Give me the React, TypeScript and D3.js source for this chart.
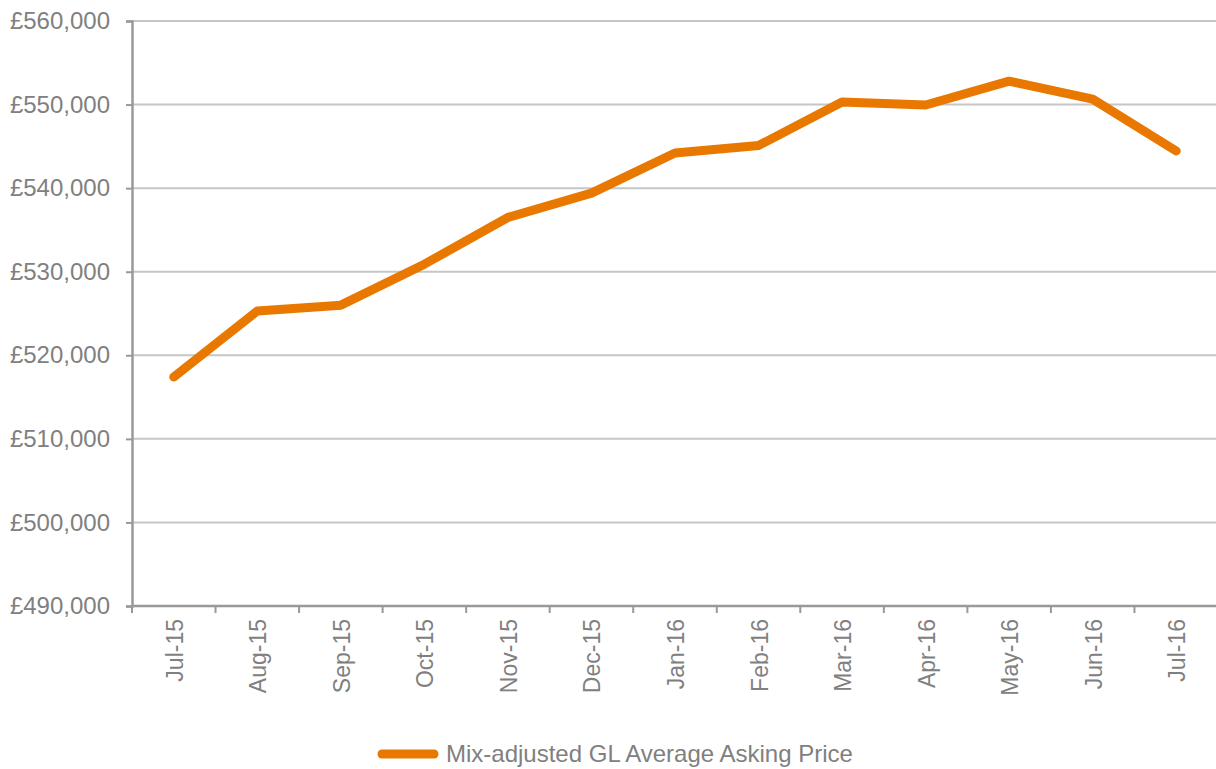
import React, { useEffect, useRef } from "react";
import * as d3 from "d3";

const months = ["Jul-15", "Aug-15", "Sep-15", "Oct-15", "Nov-15", "Dec-15", "Jan-16", "Feb-16", "Mar-16", "Apr-16", "May-16", "Jun-16", "Jul-16"];
const askingPrice = [517400, 525300, 526000, 530900, 536500, 539400, 544200, 545100, 550300, 549950, 552800, 550650, 544450];
const yTicks = [490000, 500000, 510000, 520000, 530000, 540000, 550000, 560000];
const seriesName = "Mix-adjusted GL Average Asking Price";

export default function App() {
  const ref = useRef<SVGSVGElement>(null);

  useEffect(() => {
    const el = ref.current;
    if (!el) return;
    const svg = d3.select(el);
    svg.selectAll("*").remove();
    const W = 1216, H = 769;
    const left = 132, right = 1218, top = 21, bottom = 606;
    const font = "'Liberation Sans', Arial, sans-serif";
    const grey = "#808080";

    const x = d3.scaleBand<string>().domain(months).range([left, right]);
    const y = d3.scaleLinear().domain([490000, 560000]).range([bottom, top]);

    // gridlines
    svg.append("g")
      .selectAll("line")
      .data(yTicks.slice(1))
      .join("line")
      .attr("x1", left).attr("x2", W)
      .attr("y1", d => y(d)).attr("y2", d => y(d))
      .attr("stroke", "#c6c6c6").attr("stroke-width", 2);

    // y axis
    const ya = svg.append("g")
      .attr("transform", `translate(${left},0)`)
      .call(d3.axisLeft(y).tickValues(yTicks).tickSize(6).tickPadding(16)
        .tickFormat(d => "£" + d3.format(",")(d as number)));
    ya.select(".domain").attr("stroke", "#999").attr("stroke-width", 2.5);
    ya.selectAll(".tick line").attr("stroke", "#999").attr("stroke-width", 2);
    ya.selectAll(".tick text").attr("fill", grey).attr("font-size", 24).attr("font-family", font);

    // x axis
    const xa = svg.append("g").attr("transform", `translate(0,${bottom})`);
    xa.append("line").attr("x1", left).attr("x2", W).attr("stroke", "#999").attr("stroke-width", 2.5);
    xa.selectAll("line.tk")
      .data(months.map((_, i) => left + i * x.bandwidth()))
      .join("line").attr("class", "tk")
      .attr("x1", d => d).attr("x2", d => d).attr("y1", 0).attr("y2", 7)
      .attr("stroke", "#999").attr("stroke-width", 2);
    xa.selectAll("text")
      .data(months)
      .join("text")
      .attr("transform", d => `translate(${x(d)! + x.bandwidth() / 2 + 9},13) rotate(-90)`)
      .attr("text-anchor", "end")
      .attr("fill", grey).attr("font-size", 23).attr("font-family", font)
      .text(d => d);

    // series
    const line = d3.line<number>()
      .x((_, i) => x(months[i])! + x.bandwidth() / 2)
      .y(d => y(d));
    svg.append("path")
      .datum(askingPrice)
      .attr("d", line)
      .attr("fill", "none")
      .attr("stroke", "#e87800")
      .attr("stroke-width", 9)
      .attr("stroke-linecap", "round")
      .attr("stroke-linejoin", "round");

    // legend
    svg.append("line")
      .attr("x1", 382).attr("x2", 434).attr("y1", 754).attr("y2", 754)
      .attr("stroke", "#e87800").attr("stroke-width", 9).attr("stroke-linecap", "round");
    svg.append("text")
      .attr("x", 446).attr("y", 762)
      .attr("fill", grey).attr("font-size", 24).attr("font-family", font)
      .text(seriesName);

    svg.attr("width", W).attr("height", H);
  }, []);

  return (
    <div style={{ position: "fixed", left: 0, top: 0, width: 1216, height: 769, background: "#fff" }}>
      <svg ref={ref} style={{ display: "block" }} />
    </div>
  );
}
